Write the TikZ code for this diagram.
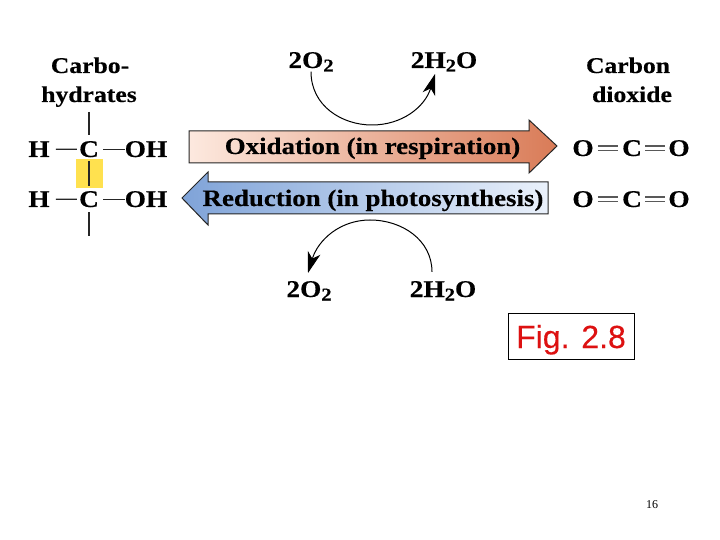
\documentclass[tikz,border=0pt]{standalone}
\usepackage{fontspec}
\setmainfont{Liberation Serif}
\newfontfamily\palb[FakeStretch=1.14,FakeBold=0.35]{Liberation Serif Bold}
\newfontfamily\arialf[FakeBold=0.2]{Liberation Sans}
\usetikzlibrary{arrows.meta}
\definecolor{figred}{HTML}{DD1111}
\definecolor{hilite}{HTML}{FFE14F}
\definecolor{oxa}{HTML}{FDE9DF}
\definecolor{oxb}{HTML}{D97B57}
\definecolor{reda}{HTML}{EAF1FB}
\definecolor{redb}{HTML}{7FA3D8}
\newcommand{\subtwo}{\raisebox{-3.5pt}{\fontsize{18}{18}\selectfont 2}}
\tikzset{
  lbl/.style={inner sep=0pt,anchor=base,font=\palb\fontsize{22.5}{24}\selectfont,text=black},
  atom/.style={inner sep=0pt,anchor=base,font=\palb\fontsize{24}{26}\selectfont,text=black},
  form/.style={inner sep=0pt,anchor=base,font=\palb\fontsize{24}{26}\selectfont,text=black},
  arrowlbl/.style={inner sep=0pt,anchor=base,font=\palb\fontsize{23.6}{26}\selectfont,text=black},
  bond/.style={line width=1.3pt,black!85},
  dbl/.style={line width=1.1pt,black!65},
  bigarrow/.style={draw=black!85,line width=1pt,line join=miter},
  curvearrow/.style={line width=1pt,-{Stealth[length=21pt,width=13pt,inset=6pt]}},
}
\begin{document}
\begin{tikzpicture}[x=1pt,y=-1pt]
\useasboundingbox[fill=white] (0,0) rectangle (720,540);
% highlight
\fill[hilite] (76,159) rectangle (103,188);
% labels
\node[lbl] (carbo) at (90,73) {Carbo-};
\node[lbl] (hydr) at (89,102) {hydrates};
\node[lbl] (carbon) at (628,73) {Carbon};
\node[lbl] (diox) at (632,102) {dioxide};
% carbohydrate
\node[atom] (h1) at (39,157) {H};
\node[atom] (c1) at (89,157) {C};
\node[atom] (oh1) at (146,157) {OH};
\node[atom] (h2) at (39,207) {H};
\node[atom] (c2) at (89,207) {C};
\node[atom] (oh2) at (146,207) {OH};
\coordinate (top) at (89,112);
\coordinate (bot) at (89,236);
\draw[bond,shorten >=6pt] (top) -- (c1);
\draw[bond,shorten <=4pt,shorten >=5pt] (c1) -- (c2);
\draw[bond,shorten <=5pt] (c2) -- (bot);
\draw[bond,shorten <=6pt,shorten >=2pt] (h1) -- (c1);
\draw[bond,shorten <=4pt] (c1) -- (oh1);
\draw[bond,shorten <=6pt,shorten >=2pt] (h2) -- (c2);
\draw[bond,shorten <=4pt] (c2) -- (oh2);
% big arrows
\draw[bigarrow,left color=oxa,right color=oxb]
  (189,131) -- (529,131) -- (529,120) -- (557,146) -- (529,173) -- (529,163) -- (189,163) -- cycle;
\draw[bigarrow,left color=redb,right color=reda]
  (548,182) -- (208,182) -- (208,172) -- (182,198) -- (208,225) -- (208,214) -- (548,214) -- cycle;
\node[arrowlbl] (oxl) at (372.5,154) {Oxidation (in respiration)};
\node[arrowlbl] (redl) at (373,206) {Reduction (in photosynthesis)};
% reaction partners
\node[form] (o2t) at (311,68) {2O\subtwo};
\node[form] (wt) at (444,68) {2H\subtwo O};
\node[form] (o2b) at (309,297) {2O\subtwo};
\node[form] (wb) at (443,297) {2H\subtwo O};
\draw[curvearrow] (o2t.south) .. controls (311,106) and (342,125) .. (372,125)
   .. controls (402,125) and (425,107) .. (435,74);
\draw[curvearrow] (wb.north) ++(-11,-9) .. controls (432,240) and (402,220) .. (370,220)
   .. controls (340,220) and (318,240) .. (308,273);
% carbon dioxide
\node[atom] (o1) at (583,156) {O};
\node[atom] (cc1) at (632,156) {C};
\node[atom] (o2) at (679,156) {O};
\node[atom] (o3) at (583,207) {O};
\node[atom] (cc2) at (632,207) {C};
\node[atom] (o4) at (679,207) {O};
\foreach \a/\b in {o1/cc1,o3/cc2}{
  \draw[dbl,shorten <=4pt,shorten >=4pt,transform canvas={yshift=2.2pt}] (\a) -- (\b);
  \draw[dbl,shorten <=4pt,shorten >=4pt,transform canvas={yshift=-2.2pt}] (\a) -- (\b);
}
\foreach \a/\b in {cc1/o2,cc2/o4}{
  \draw[dbl,shorten <=3pt,shorten >=3pt,transform canvas={yshift=2.2pt}] (\a) -- (\b);
  \draw[dbl,shorten <=3pt,shorten >=3pt,transform canvas={yshift=-2.2pt}] (\a) -- (\b);
}
% figure tag
\node[draw=black,line width=0.8pt,minimum width=126pt,minimum height=46pt,inner sep=0pt,
  text height=24pt,text depth=0pt,
  text=figred,font=\arialf\fontsize{32}{34}\selectfont] (fig) at (571,336) {Fig. 2.8};
\node[inner sep=0pt,font=\fontsize{12}{14}\selectfont] (pg) at (652,505) {16};
\end{tikzpicture}
\end{document}
